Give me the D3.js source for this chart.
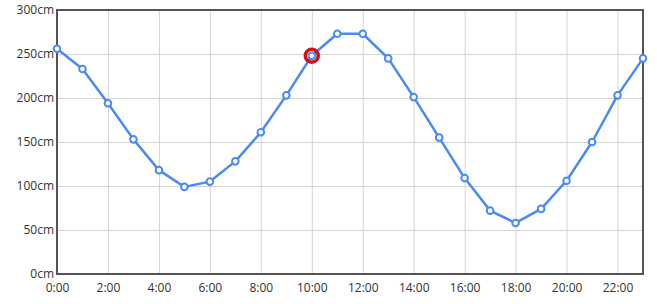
<!DOCTYPE html>
<html>
<head>
<meta charset="utf-8">
<script src="https://cdn.jsdelivr.net/npm/d3@7"></script>
<style>
  body { margin: 0; background: #fff; }
  text { font-family: "Open Sans", "DejaVu Sans", sans-serif; font-size: 12px; fill: #333; }
</style>
</head>
<body>
<svg id="chart" width="657" height="304"></svg>
<script>
// tide level by hour
let hours = d3.range(0, 24);
let levels = [256, 233, 194, 153, 118, 99, 105, 128, 161, 203, 248, 273,
              273, 245, 201, 155, 109, 72, 58, 74, 106, 150, 203, 245];
let xTicks = [0, 2, 4, 6, 8, 10, 12, 14, 16, 18, 20, 22];
let yTicks = [0, 50, 100, 150, 200, 250, 300];
let highlightHour = 10;

let chart = d3.select("#chart"),
    margin = {top: 10, right: 14, bottom: 30, left: 57},
    width = +chart.attr("width") - margin.left - margin.right,
    height = +chart.attr("height") - margin.top - margin.bottom;

let points = hours.map((h, i) => ({ hour: h, level: levels[i] }));

let x = d3.scaleLinear().domain([0, 23]).range([0, width]);
let y = d3.scaleLinear().domain([0, 300]).range([height, 0]);

let g = chart.append("g")
    .attr("transform", "translate(" + margin.left + "," + margin.top + ")");

// grid
g.append("g")
    .attr("class", "grid")
    .call(d3.axisBottom(x).tickValues(xTicks).tickSize(height).tickFormat(""))
    .call(s => s.select(".domain").remove())
    .call(s => s.selectAll("line").attr("stroke", "#d4d4d4"));
g.append("g")
    .attr("class", "grid")
    .call(d3.axisLeft(y).tickValues(yTicks).tickSize(-width).tickFormat(""))
    .call(s => s.select(".domain").remove())
    .call(s => s.selectAll("line").attr("stroke", "#d4d4d4"));

// frame
g.append("rect")
    .attr("width", width)
    .attr("height", height)
    .attr("fill", "none")
    .attr("stroke", "#555")
    .attr("stroke-width", 2);

// axes labels
g.append("g")
    .attr("transform", "translate(0," + height + ")")
    .call(d3.axisBottom(x).tickValues(xTicks).tickSize(0).tickPadding(9)
        .tickFormat(d => d + ":00"))
    .call(s => s.select(".domain").remove())
    .call(s => s.selectAll("text").attr("fill", "#333"));
g.append("g")
    .call(d3.axisLeft(y).tickValues(yTicks).tickSize(0).tickPadding(3)
        .tickFormat(d => d + "cm"))
    .call(s => s.select(".domain").remove())
    .call(s => s.selectAll("text").attr("fill", "#333"));

let line = d3.line()
    .x(d => x(d.hour))
    .y(d => y(d.level));

g.append("path")
    .datum(points)
    .attr("fill", "none")
    .attr("stroke", "#4a8af4")
    .attr("stroke-width", 2.5)
    .attr("stroke-linejoin", "round")
    .attr("d", line);

// highlighted point ring
let hp = points.find(d => d.hour === highlightHour);
g.append("circle")
    .attr("cx", x(hp.hour))
    .attr("cy", y(hp.level))
    .attr("r", 6.5)
    .attr("fill", "none")
    .attr("stroke", "#d0121b")
    .attr("stroke-width", 3.5);

g.selectAll("circle.point")
    .data(points)
    .enter()
    .append("circle")
    .attr("class", "point")
    .attr("cx", d => x(d.hour))
    .attr("cy", d => y(d.level))
    .attr("r", 3.3)
    .attr("fill", "#fff")
    .attr("stroke", "#4a8af4")
    .attr("stroke-width", 2);
</script>
</body>
</html>
